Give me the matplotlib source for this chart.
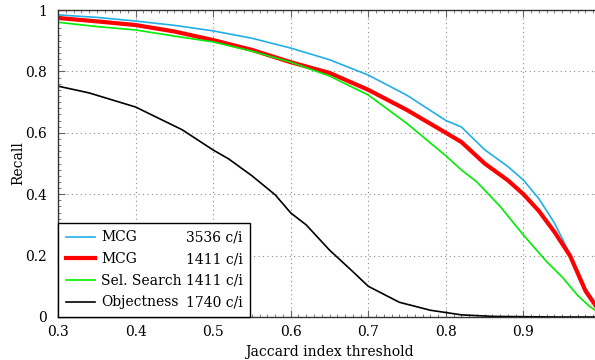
import matplotlib
matplotlib.use("Agg")
import matplotlib.pyplot as plt
from matplotlib.lines import Line2D
from matplotlib.ticker import MultipleLocator

plt.rcParams['font.family'] = ['DejaVu Serif']
FS = 10

# Jaccard thresholds and recall curves
x_mcg_hi = [0.30, 0.35, 0.40, 0.45, 0.50, 0.55, 0.60, 0.65, 0.70, 0.75, 0.80, 0.82,
            0.85, 0.88, 0.90, 0.92, 0.94, 0.96, 0.98, 0.995]
y_mcg_hi = [0.984, 0.976, 0.964, 0.950, 0.932, 0.908, 0.876, 0.838, 0.788, 0.722, 0.640, 0.619,
            0.545, 0.490, 0.446, 0.385, 0.306, 0.205, 0.095, 0.035]

x_mcg_lo = [0.30, 0.35, 0.40, 0.45, 0.50, 0.55, 0.60, 0.65, 0.70, 0.75, 0.80, 0.82,
            0.85, 0.88, 0.90, 0.92, 0.94, 0.96, 0.98, 0.995]
y_mcg_lo = [0.974, 0.963, 0.951, 0.930, 0.902, 0.870, 0.830, 0.795, 0.740, 0.674, 0.600, 0.570,
            0.500, 0.445, 0.400, 0.345, 0.277, 0.200, 0.085, 0.030]

x_ss = [0.30, 0.35, 0.40, 0.45, 0.50, 0.55, 0.60, 0.65, 0.70, 0.75, 0.80, 0.82,
        0.84, 0.87, 0.90, 0.93, 0.95, 0.97, 0.985, 0.995]
y_ss = [0.960, 0.946, 0.935, 0.915, 0.896, 0.866, 0.830, 0.785, 0.723, 0.630, 0.525, 0.479,
        0.440, 0.360, 0.267, 0.180, 0.130, 0.070, 0.035, 0.018]

x_obj = [0.30, 0.34, 0.40, 0.46, 0.50, 0.52, 0.55, 0.58, 0.60, 0.62, 0.65, 0.68,
         0.70, 0.74, 0.78, 0.82, 0.86, 0.90, 0.95, 0.995]
y_obj = [0.752, 0.730, 0.684, 0.610, 0.544, 0.515, 0.460, 0.398, 0.339, 0.300, 0.218, 0.148,
         0.100, 0.048, 0.022, 0.007, 0.002, 0.001, 0.000, 0.000]

labels = ["MCG", "MCG", "Sel. Search", "Objectness"]
counts = ["3536 c/i", "1411 c/i", "1411 c/i", "1740 c/i"]
colors = ["#22aee8", "#ff0000", "#00ee00", "#000000"]
widths = [1.2, 3.0, 1.2, 1.2]

fig = plt.figure(figsize=(5.95, 3.6), dpi=100)
ax = fig.add_axes([58 / 595, 43 / 360, 543 / 595, 307 / 360])

series = [(x_mcg_hi, y_mcg_hi), (x_mcg_lo, y_mcg_lo), (x_ss, y_ss), (x_obj, y_obj)]
handles = []
for (xs, ys), lab, c, w in zip(series, labels, colors, widths):
    h, = ax.plot(xs, ys, color=c, lw=w, label=lab)
    handles.append(h)

ax.set_xlim(0.3, 1.0)
ax.set_ylim(0, 1)
ax.xaxis.set_minor_locator(MultipleLocator(0.01))
ax.yaxis.set_minor_locator(MultipleLocator(0.02))
ax.set_xticks([0.3, 0.4, 0.5, 0.6, 0.7, 0.8, 0.9])
ax.set_xticklabels(["0.3", "0.4", "0.5", "0.6", "0.7", "0.8", "0.9"])
ax.set_yticks([0, 0.2, 0.4, 0.6, 0.8, 1.0])
ax.set_yticklabels(["0", "0.2", "0.4", "0.6", "0.8", "1"])
ax.tick_params(which='both', direction='in', top=True, right=True, labelsize=FS,
               color='#666666')
ax.tick_params(which='major', length=5)
ax.tick_params(which='minor', length=2)
ax.tick_params(axis='x', pad=6)
ax.tick_params(axis='y', pad=8)
ax.grid(True, which='major', linestyle=(0, (1, 3)), color='#888888', lw=0.8)
for s in ax.spines.values():
    s.set_color('#333333')
    s.set_linewidth(1.0)

ax.set_xlabel("Jaccard index threshold", fontsize=FS, labelpad=4)
ax.set_ylabel("Recall", fontsize=FS, labelpad=0)

# two-column legend: series names, then proposal counts per image
blank = [Line2D([], [], alpha=0) for _ in counts]
hl, hp = 2.1, 0.45
leg = ax.legend(handles + blank, labels + counts, ncol=2, loc='lower left',
                fontsize=FS, frameon=True, fancybox=False, edgecolor='black',
                framealpha=1, borderaxespad=0, handlelength=hl, handletextpad=hp,
                columnspacing=-(hl + hp) + 0.3, labelspacing=0.55, borderpad=0.55)
leg.get_frame().set_linewidth(1.0)

fig.savefig("out.png", dpi=100)
